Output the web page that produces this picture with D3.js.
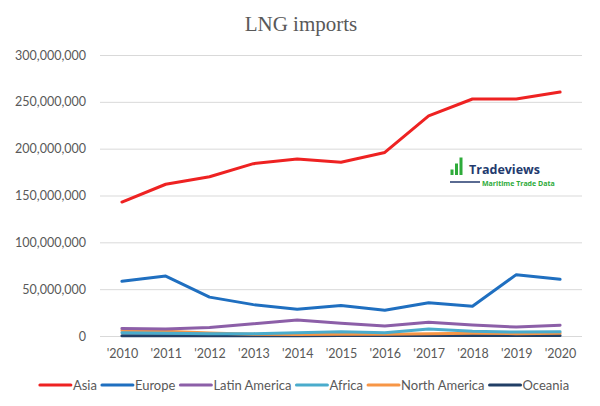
<!DOCTYPE html>
<html>
<head>
<meta charset="utf-8">
<script src="https://cdn.jsdelivr.net/npm/d3@7"></script>
<style>
  html, body { margin: 0; padding: 0; background: #ffffff; }
  svg { display: block; }
  text { font-family: Lato, "Open Sans", sans-serif; }
</style>
</head>
<body>
<svg id="chart" width="600" height="406"></svg>
<script>
// ---- data ----
const years = ["'2010", "'2011", "'2012", "'2013", "'2014", "'2015", "'2016", "'2017", "'2018", "'2019", "'2020"];
const asia         = [143000000, 162000000, 170000000, 184000000, 189000000, 185500000, 196000000, 235000000, 253000000, 253000000, 260500000];
const europe       = [58500000, 64000000, 41500000, 33500000, 28500000, 32500000, 27500000, 35500000, 31800000, 65500000, 60500000];
const latinAmerica = [8000000, 7500000, 9000000, 13000000, 17000000, 13500000, 10800000, 14600000, 11700000, 9500000, 11500000];
const africa       = [3500000, 3000000, 2500000, 2500000, 3500000, 4500000, 3500000, 7500000, 5000000, 4200000, 4500000];
const northAmerica = [5800000, 5000000, 3200000, 2000000, 1500000, 1800000, 2000000, 2500000, 3000000, 2500000, 3000000];
const oceania      = [400000, 400000, 400000, 400000, 400000, 500000, 500000, 600000, 600000, 600000, 600000];
const seriesNames  = ["Asia", "Europe", "Latin America", "Africa", "North America", "Oceania"];
const seriesColors = ["#ee2222", "#1f6fc0", "#8c5fa8", "#4aaccc", "#f79646", "#213f66"];
const yTicks = [0, 50000000, 100000000, 150000000, 200000000, 250000000, 300000000];
const title = "LNG imports";

const seriesValues = [asia, europe, latinAmerica, africa, northAmerica, oceania];

// ---- layout ----
const svg = d3.select("#chart");
const plot = { left: 100, right: 582, top: 55, bottom: 336 };

const x = d3.scalePoint().domain(years).range([plot.left, plot.right]).padding(0.5);
const y = d3.scaleLinear().domain([0, 300000000]).range([plot.bottom, plot.top]);

// title
svg.append("text")
  .attr("x", 301).attr("y", 31)
  .attr("text-anchor", "middle")
  .style("font-family", "'Liberation Serif', 'Times New Roman', serif")
  .style("font-size", "21px")
  .attr("fill", "#595959")
  .text(title);

// grid lines + y labels
const yAxis = d3.axisLeft(y).tickValues(yTicks)
  .tickSize(-(plot.right - plot.left))
  .tickPadding(14)
  .tickFormat(d3.format(","));
const gy = svg.append("g").attr("transform", `translate(${plot.left},0)`).call(yAxis);
gy.select(".domain").remove();
gy.selectAll(".tick line").attr("stroke", "#d9d9d9").attr("stroke-width", 1);
gy.selectAll(".tick text")
  .attr("fill", "#595959")
  .style("font-family", "Lato, sans-serif")
  .style("font-size", "12.5px");

// x labels
const xAxis = d3.axisBottom(x).tickSize(0).tickPadding(13);
const gx = svg.append("g").attr("transform", `translate(0,${plot.bottom})`).call(xAxis);
gx.select(".domain").remove();
gx.selectAll(".tick text")
  .attr("fill", "#595959")
  .style("font-family", "Lato, sans-serif")
  .style("font-size", "12.5px");

// logo
const logo = svg.append("g");
const logoBars = [[450.5, 169.5], [455, 163.5], [459.5, 157.5]];
logoBars.forEach(b => {
  logo.append("rect").attr("x", b[0]).attr("y", b[1]).attr("width", 3).attr("height", 175 - b[1]).attr("fill", "#2eab3a");
});
logo.append("text").attr("x", 469).attr("y", 174)
  .style("font-family", "'Open Sans', sans-serif").style("font-weight", "700").style("font-size", "12.5px")
  .attr("fill", "#233a6e").text("Tradeviews");
logo.append("line").attr("x1", 450).attr("x2", 480).attr("y1", 182).attr("y2", 182)
  .attr("stroke", "#233a6e").attr("stroke-width", 1.5);
logo.append("text").attr("x", 482).attr("y", 185.5)
  .style("font-family", "'Open Sans', sans-serif").style("font-weight", "700").style("font-size", "7px")
  .attr("fill", "#2eab3a").text("Maritime Trade Data");

// lines (draw in reverse so Asia on top)
const line = d3.line().x((d, i) => x(years[i])).y(d => y(d));
for (let s = seriesValues.length - 1; s >= 0; s--) {
  svg.append("path")
    .datum(seriesValues[s])
    .attr("d", line)
    .attr("fill", "none")
    .attr("stroke", seriesColors[s])
    .attr("stroke-width", 3)
    .attr("stroke-linejoin", "round")
    .attr("stroke-linecap", "round");
}

// legend
const legend = svg.append("g");
let cx = 0;
seriesNames.forEach((name, i) => {
  const g = legend.append("g");
  g.append("line").attr("x1", cx).attr("x2", cx + 31).attr("y1", 385).attr("y2", 385)
    .attr("stroke", seriesColors[i]).attr("stroke-width", 3).attr("stroke-linecap", "round");
  const t = g.append("text").attr("x", cx + 33).attr("y", 385).attr("dy", "0.35em")
    .attr("fill", "#595959").style("font-family", "Lato, sans-serif").style("font-size", "13px").text(name);
  cx += 33 + t.node().getComputedTextLength() + 5;
});
const totalW = cx - 5;
legend.attr("transform", `translate(${304.5 - totalW / 2},0)`);
</script>
</body>
</html>
